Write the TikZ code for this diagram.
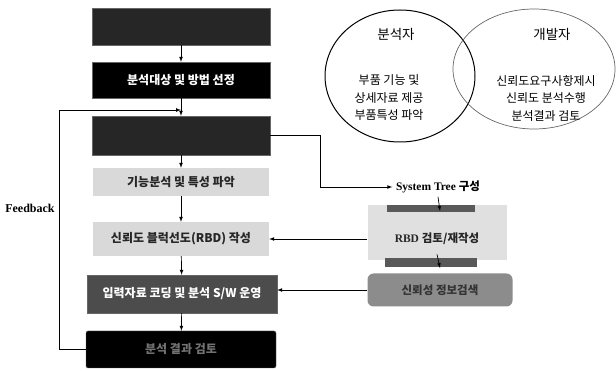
\documentclass[tikz,border=0pt]{standalone}
\usepackage{fontspec}
\setmainfont{Liberation Serif}
\newfontfamily\kr{Noto Sans CJK KR}
\usetikzlibrary{arrows,positioning}

\begin{document}
\begin{tikzpicture}[x=1pt,y=-1pt,>=latex,line width=0.7pt,
    flowbox/.style={draw=black!60,line width=0.4pt,minimum width=178pt,minimum height=37pt,inner sep=0pt,font=\kr\bfseries\fontsize{12}{14}\selectfont},
    sidebox/.style={minimum width=140pt,inner sep=0pt,font=\kr\bfseries\fontsize{11.5}{13}\selectfont},
    venntext/.style={align=center,font=\kr\fontsize{12}{17.5}\selectfont}]
                      \useasboundingbox (0,0) rectangle (616,371);
                      % main column
                      \node[flowbox,fill=black!85](goal)at(181,26.5){};
                      \node[flowbox,fill=black,text=white!80,minimum height=36pt](select)at(181,80){분석대상 및 방법 선정};
                      \node[flowbox,fill=black!85,minimum height=39pt](define)at(181,135.5){};
                      \node[flowbox,fill=black!15,draw=none,minimum width=176pt,minimum height=28pt,text=black!85](func)at(181,182){기능분석 및 특성 파악};
                      \node[flowbox,fill=black!15,draw=none,minimum width=176pt,minimum height=34pt,text=black!85](rbd)at(181,239){신뢰도 블럭선도(RBD) 작성};
                      \node[flowbox,fill=black!70,minimum width=190pt,minimum height=38pt,text=white](coding)at(182,294){입력자료 코딩 및 분석 S/W 운영};
                      \node[flowbox,fill=black,minimum width=190pt,minimum height=37pt,rounded corners=2pt,text=black!55](review)at(181,349.5){분석 결과 검토};
                      \foreach \a/\b in {goal/select,select/define,define/func,func/rbd,rbd/coding,coding/review}
                        \draw[->](\a)--(\b);
                      % feedback loop
                      \coordinate(fb)at(181,110);
                      \draw[->](review.west)--(59,349.5)--(59,110)--(fb);
                      \node[font=\bfseries\fontsize{12}{14}\selectfont]at(30,208){Feedback};
                      % right column
                      \node[font=\bfseries\fontsize{11.5}{13}\selectfont](tree)at(438,187){System Tree {\kr 구성}};
                      \fill[black!12](368,205)rectangle(507,260);
                      \fill[black!65](387,205)rectangle(475,212);
                      \fill[black!65](385,258)rectangle(477,267);
                      \node[sidebox,minimum height=30pt,text=black!85](rbdrev)at(437,239){\rmfamily RBD {\kr 검토/재작성}};
                      \node[sidebox,fill=black!45,rounded corners=6pt,minimum width=145pt,minimum height=33pt,text=black!80](search)at(440,290){신뢰성 정보검색};
                      \draw[->](define.east)--(320,135.5)--(320,187)--(tree.west);
                      \draw[->](tree.south)--(440,211);
                      \draw[->](rbdrev.south)--(440,268);
                      \draw[->](rbdrev.west)--(rbd.east);
                      \draw[->](search.west)--(search.west -| coding.east);
                      % venn
                      \draw[black,line width=1pt](400,76)ellipse(75pt and 66pt);
                      \draw[black!60](534,69)ellipse(81pt and 60pt);
                      \node[font=\kr\fontsize{13.5}{15}\selectfont](ana)at(396,34){분석자};
                      \node[font=\kr\fontsize{13.5}{15}\selectfont](dev)at(552,34){개발자};
                      \node[venntext](anatext)at(389,98){부품 기능 및\\상세자료 제공\\부품특성 파악};
                      \node[venntext](devtext)at(546,98){신뢰도요구사항제시\\신뢰도 분석수행\\분석결과 검토};
                  \end{tikzpicture}
\end{document}
